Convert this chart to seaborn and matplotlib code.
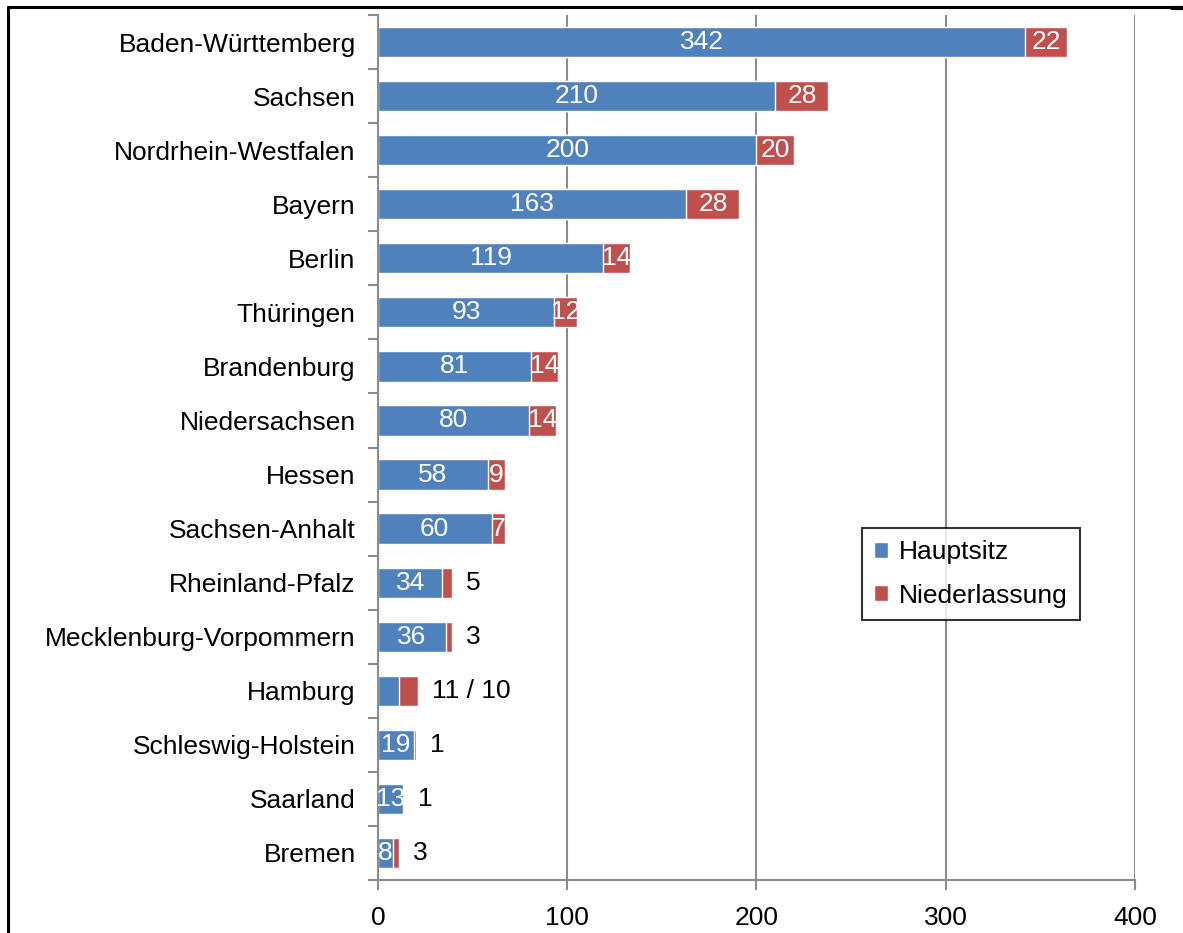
import numpy as np
import pandas as pd
import matplotlib
matplotlib.use("Agg")
import matplotlib.pyplot as plt
import seaborn as sns
from matplotlib.lines import Line2D
from matplotlib.patches import Patch

states = ["Baden-Württemberg", "Sachsen", "Nordrhein-Westfalen", "Bayern", "Berlin",
          "Thüringen", "Brandenburg", "Niedersachsen", "Hessen", "Sachsen-Anhalt",
          "Rheinland-Pfalz", "Mecklenburg-Vorpommern", "Hamburg", "Schleswig-Holstein",
          "Saarland", "Bremen"]
hauptsitz = [342, 210, 200, 163, 119, 93, 81, 80, 58, 60, 34, 36, 11, 19, 13, 8]
niederlassung = [22, 28, 20, 28, 14, 12, 14, 14, 9, 7, 5, 3, 10, 1, 1, 3]
# labels written inside the bars ("" = none) and beside the bars
inner_haupt = ["342", "210", "200", "163", "119", "93", "81", "80", "58", "60",
               "34", "36", "", "19", "13", "8"]
inner_nieder = ["22", "28", "20", "28", "14", "12", "14", "14", "9", "7",
                "", "", "", "", "", ""]
outer_labels = ["", "", "", "", "", "", "", "", "", "",
                "5", "3", "11 / 10", "1", "1", "3"]

BLUE = "#4F81BD"
RED = "#C0504D"
GRID = "#8C8C8C"


def main():
    df = pd.DataFrame({"Land": states, "Hauptsitz": hauptsitz,
                       "Niederlassung": niederlassung})
    df["Gesamt"] = df["Hauptsitz"] + df["Niederlassung"]

    sns.set_style("white")
    plt.rcParams["font.family"] = ["Liberation Sans", "DejaVu Sans"]
    plt.rcParams["text.color"] = "black"
    plt.rcParams["xtick.labelcolor"] = "black"
    plt.rcParams["ytick.labelcolor"] = "black"

    fig = plt.figure(figsize=(11.83, 9.33), dpi=100)
    ax = fig.add_axes([0.3195, 0.0568, 0.6399, 0.9271])

    # stacked bars: full total in red, Hauptsitz in blue on top
    sns.barplot(data=df, x="Gesamt", y="Land", color=RED, width=0.56,
                orient="h", ax=ax, saturation=1)
    sns.barplot(data=df, x="Hauptsitz", y="Land", color=BLUE, width=0.56,
                orient="h", ax=ax, saturation=1)

    fs = 19
    for i, row in df.iterrows():
        if inner_haupt[i]:
            ax.text(row["Hauptsitz"] / 2, i, inner_haupt[i], color="white",
                    ha="center", va="center", fontsize=fs)
        if inner_nieder[i]:
            ax.text(row["Hauptsitz"] + row["Niederlassung"] / 2, i, inner_nieder[i],
                    color="white", ha="center", va="center", fontsize=fs)
        if outer_labels[i]:
            ax.annotate(outer_labels[i], (row["Gesamt"], i), xytext=(10, 0),
                        textcoords="offset points", ha="left", va="center",
                        fontsize=fs, color="black")

    ax.set_xlim(0, 400)
    ax.set_ylim(len(states) - 0.5, -0.5)
    ax.set_xticks([0, 100, 200, 300, 400])
    ax.set_xlabel("")
    ax.set_ylabel("")
    ax.xaxis.grid(True, color=GRID, linewidth=1.5)
    ax.set_axisbelow(True)

    for side in ["top", "right"]:
        ax.spines[side].set_visible(False)
    for side in ["left", "bottom"]:
        ax.spines[side].set_color(GRID)
        ax.spines[side].set_linewidth(1.5)

    ax.tick_params(axis="x", length=7, width=1.5, color=GRID, labelsize=fs,
                   pad=12, direction="out", bottom=True, labelcolor="black")
    ax.tick_params(axis="y", which="major", length=0, labelsize=fs, pad=16,
                   labelcolor="black")
    ax.set_yticks(np.arange(-0.5, len(states), 1), minor=True)
    ax.tick_params(axis="y", which="minor", length=7, width=1.5, color=GRID,
                   direction="out", left=True)

    handles = [Patch(facecolor=BLUE, label="Hauptsitz"),
               Patch(facecolor=RED, label="Niederlassung")]
    leg = fig.legend(handles=handles, loc="upper left",
                     bbox_to_anchor=(0.7287, 0.434), fontsize=fs,
                     frameon=True, fancybox=False, handlelength=0.55,
                     handleheight=0.55, handletextpad=0.4, labelspacing=0.75,
                     borderpad=0.45, borderaxespad=0)
    leg.get_frame().set_edgecolor("black")
    leg.get_frame().set_linewidth(1.5)
    for t in leg.get_texts():
        t.set_color("black")

    # chart area border (cropped)
    fig.add_artist(Line2D([8 / 1183, 8 / 1183], [0, 1 - 7 / 933],
                          transform=fig.transFigure, color="black", lw=2.2))
    fig.add_artist(Line2D([8 / 1183, 1171 / 1183], [1 - 7 / 933, 1 - 7 / 933],
                          transform=fig.transFigure, color="black", lw=2.2))
    fig.add_artist(Line2D([1172 / 1183, 1], [1 - 8 / 933, 1 - 8 / 933],
                          transform=fig.transFigure, color="black", lw=3))

    fig.savefig("out.png", dpi=100)


if __name__ == "__main__":
    main()
